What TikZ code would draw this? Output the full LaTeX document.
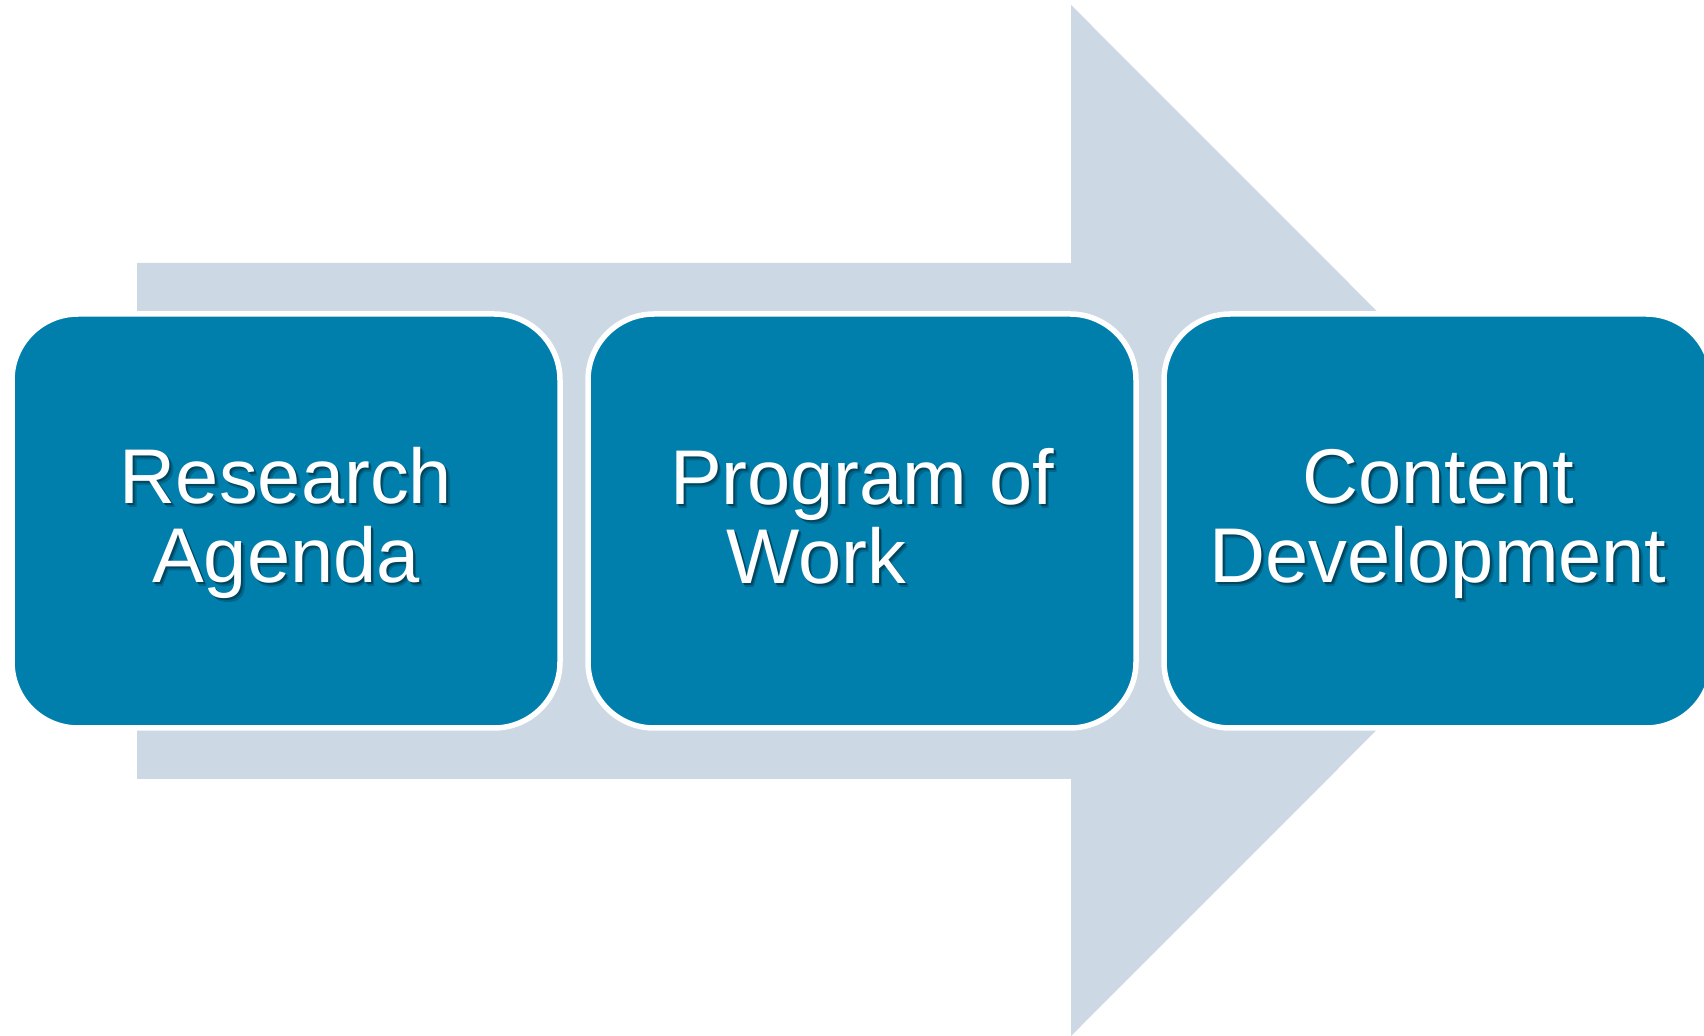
\documentclass[tikz,border=0pt]{standalone}
\usepackage{fontspec}
\setmainfont{Liberation Sans}
\definecolor{boxteal}{RGB}{0,127,173}
\definecolor{arrowgray}{RGB}{204,216,227}
\colorlet{txtshadow}{black!45!boxteal}
\colorlet{txtshadowsoft}{black!20!boxteal}
\newcommand\shd[1]{\leavevmode\rlap{\kern1.6pt\raisebox{-1.6pt}{\textcolor{txtshadowsoft}{#1}}}\rlap{\kern1pt\raisebox{-1pt}{\textcolor{txtshadow}{#1}}}#1}
\newcommand\topstrut{\rule{0pt}{32pt}}
\newcommand\botstrut{\rule[-8.5pt]{0pt}{8.5pt}}
\begin{document}
\begin{tikzpicture}[x=0.5pt,y=-0.5pt,
  stage/.style={draw=white, line width=2.75pt, fill=boxteal, rounded corners=33pt,
    minimum width=274pt, minimum height=207pt, inner sep=0pt, align=center,
    text=white, font=\fontsize{38.8pt}{39.5pt}\selectfont}]
\fill[white] (0,0) rectangle (1704,1036);
\clip (0,0) rectangle (1704,1036);
\fill[arrowgray] (137,263) -- (1071,263) -- (1071,5) -- (1586,520.5) -- (1071,1036) -- (1071,779) -- (137,779) -- cycle;
\node[stage] (ra) at (286,521) {\topstrut\shd{Research}\\\shd{Agenda}\botstrut};
\node[stage] (pw) at (862,521) {\topstrut\shd{Program of}\\\shd{Work}\rule{46pt}{0pt}\botstrut};
\node[stage] (cd) at (1438,521) {\topstrut\shd{Content}\\\shd{Development}\botstrut};
\end{tikzpicture}
\end{document}
